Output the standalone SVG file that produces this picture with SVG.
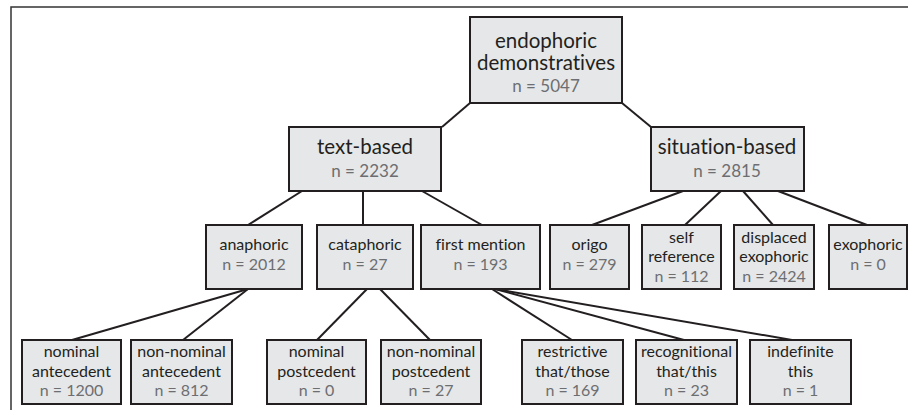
<svg xmlns="http://www.w3.org/2000/svg" width="908" height="410" viewBox="0 0 908 410">
<style>
.box{fill:#e6e7e8;stroke:#231f20;stroke-width:2}
.t{font-family:Lato,"Open Sans","Liberation Sans",sans-serif;fill:#231f20;text-anchor:middle;font-variant-ligatures:none}
.n{font-family:Lato,"Open Sans","Liberation Sans",sans-serif;fill:#6d6e71;text-anchor:middle;font-variant-ligatures:none}
.big{font-size:20.5px}
.bn{font-size:17px}
.sm{font-size:16px}
.conn line{stroke:#231f20;stroke-width:2}
.frame{fill:none;stroke:#333;stroke-width:1.5}
</style>
<rect width="908" height="410" fill="#fff"/>
<path class="frame" d="M11,410 V7 H908"/>
<g class="conn" id="connectors">
<line x1="470" y1="103" x2="442" y2="127"/>
<line x1="622" y1="103" x2="651" y2="127"/>
<line x1="302" y1="191" x2="248" y2="225"/>
<line x1="363" y1="191" x2="363" y2="225"/>
<line x1="422" y1="191" x2="482" y2="225"/>
<line x1="683" y1="191" x2="592" y2="225"/>
<line x1="721" y1="191" x2="685" y2="225"/>
<line x1="743" y1="191" x2="773" y2="225"/>
<line x1="778" y1="191" x2="867" y2="225"/>
<line x1="248" y1="289" x2="72" y2="340"/>
<line x1="248" y1="289" x2="183" y2="340"/>
<line x1="367" y1="289" x2="317" y2="340"/>
<line x1="380" y1="289" x2="430" y2="340"/>
<line x1="492" y1="289" x2="572" y2="340"/>
<line x1="495" y1="289" x2="684" y2="340"/>
<line x1="495" y1="289" x2="792" y2="340"/>
</g>
<g id="root">
<rect class="box" x="470" y="17" width="152" height="86"/>
<text class="t big" x="546" y="48">endophoric</text>
<text class="t big" x="546" y="70">demonstratives</text>
<text class="n bn" x="546" y="92">n = 5047</text>
</g>
<g id="text-based">
<rect class="box" x="289" y="127" width="152" height="64"/>
<text class="t big" x="365" y="154">text-based</text>
<text class="n bn" x="365" y="177">n = 2232</text>
</g>
<g id="situation-based">
<rect class="box" x="651" y="127" width="153" height="64"/>
<text class="t big" x="727" y="154">situation-based</text>
<text class="n bn" x="727" y="177">n = 2815</text>
</g>
<g id="anaphoric">
<rect class="box" x="206" y="225" width="96" height="64"/>
<text class="t sm" x="254" y="250">anaphoric</text>
<text class="n sm" x="254" y="270">n = 2012</text>
</g>
<g id="cataphoric">
<rect class="box" x="317" y="225" width="96" height="64"/>
<text class="t sm" x="365" y="250">cataphoric</text>
<text class="n sm" x="365" y="270">n = 27</text>
</g>
<g id="first-mention">
<rect class="box" x="421" y="225" width="119" height="64"/>
<text class="t sm" x="480.5" y="250">first mention</text>
<text class="n sm" x="480.5" y="270">n = 193</text>
</g>
<g id="origo">
<rect class="box" x="550" y="225" width="79" height="64"/>
<text class="t sm" x="589.5" y="250">origo</text>
<text class="n sm" x="589.5" y="270">n = 279</text>
</g>
<g id="self-reference">
<rect class="box" x="642" y="225" width="79" height="64"/>
<text class="t sm" x="681.5" y="243">self</text>
<text class="t sm" x="681.5" y="262">reference</text>
<text class="n sm" x="681.5" y="282">n = 112</text>
</g>
<g id="displaced-exophoric">
<rect class="box" x="734" y="225" width="80" height="64"/>
<text class="t sm" x="774" y="243">displaced</text>
<text class="t sm" x="774" y="262">exophoric</text>
<text class="n sm" x="774" y="282">n = 2424</text>
</g>
<g id="exophoric">
<rect class="box" x="829" y="225" width="78" height="64"/>
<text class="t sm" x="868" y="250">exophoric</text>
<text class="n sm" x="868" y="270">n = 0</text>
</g>
<g id="nominal-antecedent">
<rect class="box" x="22" y="340" width="99" height="64"/>
<text class="t sm" x="71.5" y="357">nominal</text>
<text class="t sm" x="71.5" y="377">antecedent</text>
<text class="n sm" x="71.5" y="396">n = 1200</text>
</g>
<g id="non-nominal-antecedent">
<rect class="box" x="131" y="340" width="101" height="64"/>
<text class="t sm" x="181.5" y="357">non-nominal</text>
<text class="t sm" x="181.5" y="377">antecedent</text>
<text class="n sm" x="181.5" y="396">n = 812</text>
</g>
<g id="nominal-postcedent">
<rect class="box" x="267" y="340" width="99" height="64"/>
<text class="t sm" x="316.5" y="357">nominal</text>
<text class="t sm" x="316.5" y="377">postcedent</text>
<text class="n sm" x="316.5" y="396">n = 0</text>
</g>
<g id="non-nominal-postcedent">
<rect class="box" x="381" y="340" width="100" height="64"/>
<text class="t sm" x="431" y="357">non-nominal</text>
<text class="t sm" x="431" y="377">postcedent</text>
<text class="n sm" x="431" y="396">n = 27</text>
</g>
<g id="restrictive">
<rect class="box" x="522" y="340" width="101" height="64"/>
<text class="t sm" x="572.5" y="357">restrictive</text>
<text class="t sm" x="572.5" y="377">that/those</text>
<text class="n sm" x="572.5" y="396">n = 169</text>
</g>
<g id="recognitional">
<rect class="box" x="636" y="340" width="101" height="64"/>
<text class="t sm" x="686.5" y="357">recognitional</text>
<text class="t sm" x="686.5" y="377">that/this</text>
<text class="n sm" x="686.5" y="396">n = 23</text>
</g>
<g id="indefinite">
<rect class="box" x="750" y="340" width="101" height="64"/>
<text class="t sm" x="800.5" y="357">indefinite</text>
<text class="t sm" x="800.5" y="377">this</text>
<text class="n sm" x="800.5" y="396">n = 1</text>
</g>
</svg>
